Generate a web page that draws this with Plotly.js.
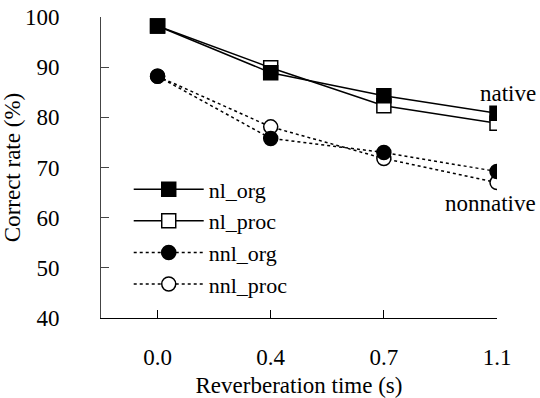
<!DOCTYPE html>
<html>
<head>
<meta charset="utf-8">
<script src="https://cdn.plot.ly/plotly-3.0.1.min.js"></script>
<style>html,body{margin:0;padding:0;background:#fff}#chart{width:540px;height:398px}</style>
</head>
<body>
<div id="chart"></div>
<script>
var categories = ["0.0", "0.4", "0.7", "1.1"];
var nlOrg = [98.2, 88.9, 84.3, 80.8];
var nlProc = [98.2, 89.9, 82.3, 78.8];
var nnlOrg = [88.2, 75.8, 73.0, 69.2];
var nnlProc = [88.2, 78.1, 71.8, 67.0];
var seriesNames = ["nl_org", "nl_proc", "nnl_org", "nnl_proc"];
var yTicks = [40, 50, 60, 70, 80, 90, 100];

var FONT = "Liberation Serif";
var idx = categories.map(function (c, i) { return i; });

function mk(name, vals, dash, symbol, fill, rank) {
  return {
    type: "scatter", mode: "lines+markers", name: name,
    x: idx, y: vals, legendgroup: name, legendrank: rank,
    line: {color: "#000", width: 1.5, dash: dash},
    marker: {symbol: symbol, size: 14, color: fill, line: {color: "#000", width: 1.5}}
  };
}

// open-marker series drawn first so filled markers sit on top
var data = [
  mk(seriesNames[3], nnlProc, "dot", "circle", "#fff", 4),
  mk(seriesNames[2], nnlOrg, "dot", "circle", "#000", 3),
  mk(seriesNames[1], nlProc, "solid", "square", "#fff", 2),
  mk(seriesNames[0], nlOrg, "solid", "square", "#000", 1)
];

var f = function (s) { return {family: FONT, size: s, color: "#000"}; };

var layout = {
  width: 540, height: 398,
  margin: {l: 101, r: 43, t: 17, b: 80},
  paper_bgcolor: "#fff", plot_bgcolor: "#fff",
  showlegend: true,
  legend: {x: 0.07, y: 0.497, xanchor: "left", yanchor: "top", bgcolor: "rgba(0,0,0,0)",
           traceorder: "normal", tracegroupgap: 1, itemwidth: 70, font: f(22)},
  xaxis: {
    range: [-0.5, 3.0], tickmode: "array", tickvals: idx, ticktext: categories,
    showgrid: false, zeroline: false, showline: true, linecolor: "#000", linewidth: 1,
    ticks: "inside", ticklen: 8, tickcolor: "#000", ticklabelstandoff: 18,
    tickfont: f(23),
    title: {text: "Reverberation time (s)", font: f(23), standoff: 8}
  },
  yaxis: {
    range: [40, 100], tickmode: "array", tickvals: yTicks,
    showgrid: false, zeroline: false, showline: true, linecolor: "#444", linewidth: 1,
    ticks: "inside", ticklen: 8, tickcolor: "#444", ticklabelstandoff: 36,
    tickfont: f(23),
    title: {text: "Correct rate (%)", font: f(23), standoff: 0}
  },
  annotations: [
    {xref: "x", yref: "y", x: 3, y: 84.85, text: "native", showarrow: false, xanchor: "center",
     xshift: 11, font: f(23)},
    {xref: "x", yref: "y", x: 3, y: 62.9, text: "nonnative", showarrow: false, xanchor: "center",
     xshift: -7, font: f(23)}
  ]
};

Plotly.newPlot("chart", data, layout, {staticPlot: true});
</script>
</body>
</html>
